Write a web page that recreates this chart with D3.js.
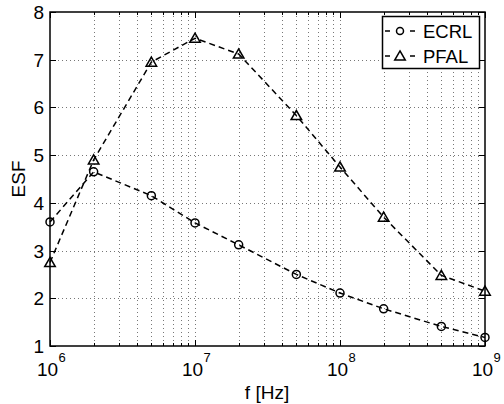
<!DOCTYPE html>
<html>
<head>
<meta charset="utf-8">
<script src="https://cdn.jsdelivr.net/npm/d3@7"></script>
<style>
  body { margin: 0; background: #fff; }
  text { font-family: "Liberation Sans", Arial, sans-serif; fill: #000; }
</style>
</head>
<body>
<svg width="504" height="404"></svg>
<script>
let freqs = [1e6, 2e6, 5e6, 1e7, 2e7, 5e7, 1e8, 2e8, 5e8, 1e9];
let ecrl = [3.6, 4.65, 4.15, 3.58, 3.12, 2.5, 2.11, 1.78, 1.41, 1.18];
let pfal = [2.75, 4.9, 6.95, 7.45, 7.12, 5.83, 4.75, 3.7, 2.48, 2.15];
let yTicks = [1, 2, 3, 4, 5, 6, 7, 8];
let xDecades = [6, 7, 8, 9];

let svg = d3.select('svg');
let pLeft = 50, pRight = 485, pTop = 12, pBottom = 346;

let x = d3.scaleLog().domain([1e6, 1e9]).range([pLeft, pRight]);
let y = d3.scaleLinear().domain([1, 8]).range([pBottom, pTop]);

// minor positions on the log axis
let minor = [];
for (let d = 6; d < 9; d++) {
	for (let m = 2; m <= 9; m++) minor.push(m * Math.pow(10, d));
}
let major = xDecades.map(d => Math.pow(10, d));

let grid = svg.append('g')
	.attr('stroke', '#777')
	.attr('stroke-width', 1)
	.attr('stroke-dasharray', '1,3');

grid.selectAll('.gx')
	.data(minor.concat(major.slice(1, -1)))
	.join('line')
	.attr('class', 'gx')
	.attr('x1', d => Math.round(x(d)) + 0.5)
	.attr('x2', d => Math.round(x(d)) + 0.5)
	.attr('y1', pTop)
	.attr('y2', pBottom);

grid.selectAll('.gy')
	.data(yTicks.slice(1, -1))
	.join('line')
	.attr('class', 'gy')
	.attr('x1', pLeft)
	.attr('x2', pRight)
	.attr('y1', d => Math.round(y(d)) + 0.5)
	.attr('y2', d => Math.round(y(d)) + 0.5);

// ticks on all four sides, pointing inward
let ticks = svg.append('g').attr('stroke', '#000').attr('stroke-width', 1);
[[pBottom, -1], [pTop, 1]].forEach(([yy, dir]) => {
	ticks.append('g').selectAll('line')
		.data(major)
		.join('line')
		.attr('x1', d => Math.round(x(d)) + 0.5)
		.attr('x2', d => Math.round(x(d)) + 0.5)
		.attr('y1', yy)
		.attr('y2', yy + dir * 6);
	ticks.append('g').selectAll('line')
		.data(minor)
		.join('line')
		.attr('x1', d => Math.round(x(d)) + 0.5)
		.attr('x2', d => Math.round(x(d)) + 0.5)
		.attr('y1', yy)
		.attr('y2', yy + dir * 3);
});
[[pLeft, 1], [pRight, -1]].forEach(([xx, dir]) => {
	ticks.append('g').selectAll('line')
		.data(yTicks)
		.join('line')
		.attr('x1', xx)
		.attr('x2', xx + dir * 6)
		.attr('y1', d => Math.round(y(d)) + 0.5)
		.attr('y2', d => Math.round(y(d)) + 0.5);
});

// plot box
svg.append('rect')
	.attr('x', pLeft)
	.attr('y', pTop)
	.attr('width', pRight - pLeft)
	.attr('height', pBottom - pTop)
	.attr('fill', 'none')
	.attr('stroke', '#000')
	.attr('stroke-width', 1.5);

// y tick labels
svg.append('g')
	.selectAll('text')
	.data(yTicks)
	.join('text')
	.attr('x', 44)
	.attr('y', d => y(d) + 7)
	.attr('text-anchor', 'end')
	.attr('font-size', 19)
	.text(d => d);

// x tick labels 10^n
let xl = svg.append('g')
	.selectAll('g')
	.data(xDecades)
	.join('g')
	.attr('transform', d => `translate(${x(Math.pow(10, d))},0)`);
xl.append('text')
	.attr('x', -13)
	.attr('y', 376)
	.attr('font-size', 19)
	.text('10');
xl.append('text')
	.attr('x', 8.5)
	.attr('y', 362)
	.attr('font-size', 13)
	.text(d => d);

// axis labels
svg.append('text')
	.attr('x', 267)
	.attr('y', 399)
	.attr('text-anchor', 'middle')
	.attr('font-size', 19)
	.text('f [Hz]');
svg.append('text')
	.attr('transform', `translate(25,${(pTop + pBottom) / 2}) rotate(-90)`)
	.attr('text-anchor', 'middle')
	.attr('font-size', 19)
	.text('ESF');

// series
let line = d3.line().x((d, i) => x(freqs[i])).y(d => y(d));
let tri = d3.symbol().type(d3.symbolTriangle).size(48);

function drawSeries(vals, marker) {
	svg.append('path')
		.datum(vals)
		.attr('d', line)
		.attr('fill', 'none')
		.attr('stroke', '#000')
		.attr('stroke-width', 1.5)
		.attr('stroke-dasharray', '6,4');
	let g = svg.append('g')
		.attr('fill', 'none')
		.attr('stroke', '#000')
		.attr('stroke-width', 1.5);
	if (marker === 'circle') {
		g.selectAll('circle')
			.data(vals)
			.join('circle')
			.attr('cx', (d, i) => x(freqs[i]))
			.attr('cy', d => y(d))
			.attr('r', 4);
	} else {
		g.selectAll('path')
			.data(vals)
			.join('path')
			.attr('d', tri)
			.attr('transform', (d, i) => `translate(${x(freqs[i])},${y(d) + 1})`);
	}
}
drawSeries(ecrl, 'circle');
drawSeries(pfal, 'triangle');

// legend
let lg = svg.append('g');
lg.append('rect')
	.attr('x', 382.5)
	.attr('y', 16.5)
	.attr('width', 97)
	.attr('height', 52)
	.attr('fill', '#fff')
	.attr('stroke', '#000')
	.attr('stroke-width', 1.5);
let items = [['ECRL', 'circle'], ['PFAL', 'triangle']];
items.forEach(([name, m], i) => {
	let cy = 31 + i * 25;
	lg.append('line')
		.attr('x1', 385).attr('x2', 415)
		.attr('y1', cy).attr('y2', cy)
		.attr('stroke', '#000')
		.attr('stroke-width', 1.5)
		.attr('stroke-dasharray', '5,20');
	if (m === 'circle') {
		lg.append('circle').attr('cx', 400).attr('cy', cy).attr('r', 3.5)
			.attr('fill', 'none').attr('stroke', '#000').attr('stroke-width', 1.5);
	} else {
		lg.append('path').attr('d', tri).attr('transform', `translate(400,${cy + 1})`)
			.attr('fill', 'none').attr('stroke', '#000').attr('stroke-width', 1.5);
	}
	lg.append('text')
		.attr('x', 423)
		.attr('y', cy + 7)
		.attr('font-size', 18.5)
		.text(name);
});
</script>
</body>
</html>
